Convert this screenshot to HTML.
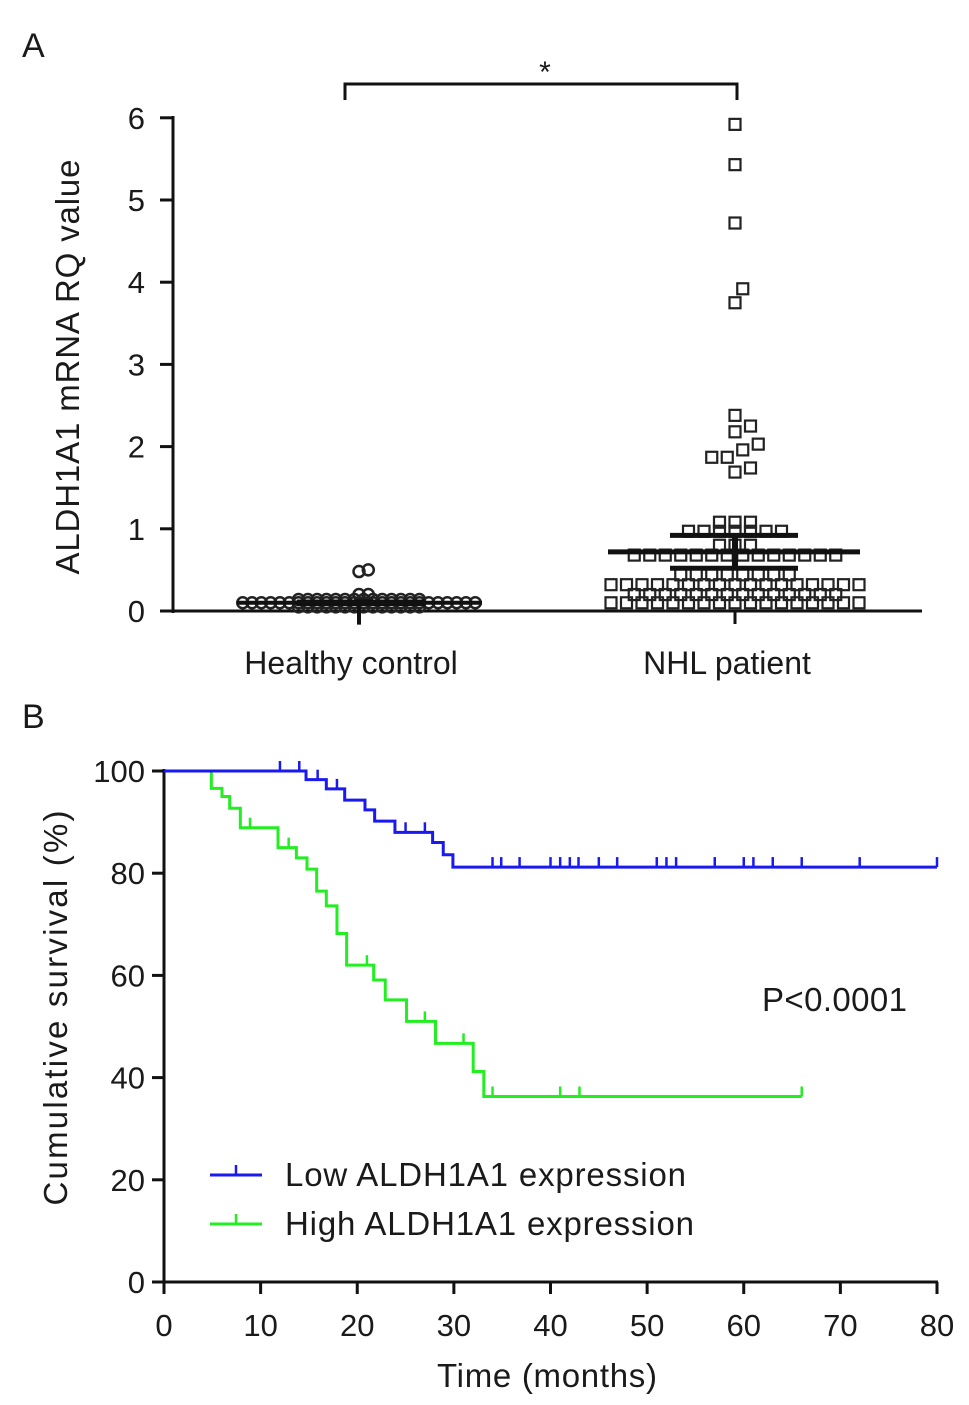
<!DOCTYPE html>
<html><head><meta charset="utf-8"><style>
html,body{margin:0;padding:0;background:#fff}
svg{display:block}
text{font-family:"Liberation Sans",Arial,sans-serif;fill:#1a1a1a}
</style></head><body>
<svg id="fig" width="969" height="1405" viewBox="0 0 969 1405" xmlns="http://www.w3.org/2000/svg">
<g id="panelA"></g>
<g id="panelB"></g>
</svg>
<script>
// ---------- Panel A data ----------
const groupsA = ["Healthy control", "NHL patient"];
const yTicksA = [0, 1, 2, 3, 4, 5, 6];
const healthyValues = [0.5,0.48,0.2,0.2,
 0.1,0.1,0.1,0.1,0.1,0.1,0.1,0.1,0.1,0.1,0.1,0.1,0.1,0.1,0.1,0.1,0.1,0.1,0.1,0.1,0.1,0.1,0.1,0.1,0.1,0.1,
 0.05,0.05,0.05,0.05,0.05,0.05,0.05,0.05,0.05,0.05,0.05,0.05,0.05,0.05,
 0.14,0.14,0.14,0.14,0.14,0.14,0.14,0.14,0.14,0.14,0.14,0.14,0.14,0.14];
const healthyStats = [0.1, 0.06, 0.14, -0.02];
const nhlValues = [5.92,5.43,4.72,3.92,3.75,2.38,2.25,2.18,2.03,1.96,1.87,1.87,1.74,1.69,
 1.08,1.08,1.08,0.97,0.97,0.97,0.97,0.97,0.97,0.97,0.8,0.8,0.8,
 0.68,0.68,0.68,0.68,0.68,0.68,0.68,0.68,0.68,0.68,0.68,0.68,0.68,0.68,
 0.44,0.44,0.44,0.44,0.44,0.44,0.44,0.44,
 0.32,0.32,0.32,0.32,0.32,0.32,0.32,0.32,0.32,0.32,0.32,0.32,0.32,0.32,0.32,0.32,0.32,
 0.2,0.2,0.2,0.2,0.2,0.2,0.2,0.2,0.2,0.2,0.2,0.2,0.2,0.2,
 0.1,0.1,0.1,0.1,0.1,0.1,0.1,0.1,0.1,0.1,0.1,0.1,0.1,0.1,0.1,0.1,0.1];
const nhlStats = [0.72, 0.52, 0.92];

// ---------- Panel B data ----------
const xTicksB = [0,10,20,30,40,50,60,70,80];
const yTicksB = [0,20,40,60,80,100];
const lowTimes = [14.7,16.8,18.7,20.8,21.8,23.9,27.8,28.9,29.9];
const lowSurv  = [98.3,96.5,94.3,92.4,90.2,88,86,83.6,81.2];
const lowEnd = 80;
const lowCensor = [12,14,15.9,17.9,25,27,34,34.9,36.8,40,41,42,42.9,45,46.9,51,52,53,57,60,61,63,66,72,80];
const highTimes = [4.9,6.0,6.8,7.9,11.8,13.7,14.8,15.8,16.8,17.9,18.9,21.7,22.9,25.1,28.1,32.0,33.1];
const highSurv  = [96.6,95,92.7,88.9,85,83,80.8,76.5,73.6,68.2,62,59.1,55.2,51,46.7,41.2,36.3];
const highEnd = 66;
const highCensor = [8.9,12.9,21,27,31,34,41,43,66];

const NS="http://www.w3.org/2000/svg";
function mk(parent, tag, attrs, txt){
  const e=document.createElementNS(NS,tag);
  for(const k in attrs) e.setAttribute(k,attrs[k]);
  if(txt!==undefined) e.textContent=txt;
  parent.appendChild(e); return e;
}

// ===== Panel A =====
const A=document.getElementById('panelA');
const ayS=v=>611-v*82.2;
const gx=[359,735];
let t=mk(A,'text',{x:22,y:57,'font-size':34},'A');


let ax=mk(A,'line',{x1:173,y1:116,x2:173,y2:613,stroke:'#111','stroke-width':3});


ax=mk(A,'line',{x1:172,y1:611,x2:922,y2:611,stroke:'#111','stroke-width':3});


yTicksA.forEach(v=>{
  const y=ayS(v);
  const tk=mk(A,'line',{x1:160,y1:y,x2:173,y2:y,stroke:'#111','stroke-width':3});
  
  
  const lb=mk(A,'text',{x:145,y:y+11,'font-size':31,'text-anchor':'end'},String(v));
  
  
});
t=mk(A,'text',{transform:'translate(79,367) rotate(-90)','font-size':33,'text-anchor':'middle','textLength':415},'ALDH1A1 mRNA RQ value');


groupsA.forEach((g,i)=>{
  const lb=mk(A,'text',{x:gx[i]-8,y:674,'font-size':32,'text-anchor':'middle'},g);
  
  
});
let br=mk(A,'path',{d:'M345,100 L345,84 L737,84 L737,100',fill:'none',stroke:'#111','stroke-width':3});


t=mk(A,'text',{x:545,y:82,'font-size':30,'text-anchor':'middle'},'*');



// row layout for dense low values, beeswarm for sparse high values
function layout(vals, cx, sp, cut){
  const groups={}; const out=[]; const placed=[];
  vals.filter(v=>v<cut).forEach(v=>{(groups[v]=groups[v]||[]).push(v);});
  Object.keys(groups).forEach(k=>{
    const n=groups[k].length;
    for(let i=0;i<n;i++) out.push([cx+(i-(n-1)/2)*sp, ayS(+k)]);
  });
  vals.filter(v=>v>=cut).sort((a,b)=>a-b).forEach(v=>{
    const y=ayS(v); let bx=cx;
    for(let k=0;k<40;k++){
      const off=(k%2?1:-1)*Math.ceil(k/2)*sp*0.5;
      const x=cx+off;
      if(placed.every(p=>Math.hypot(p[0]-x,p[1]-y)>=sp)){bx=x;break;}
    }
    placed.push([bx,y]); out.push([bx,y]);
  });
  return out;
}
layout(healthyValues,gx[0],9.3,0.15).forEach(([x,y])=>{
  const c=mk(A,'circle',{cx:x,cy:y,r:5.5,fill:'none',stroke:'#222','stroke-width':2.5});
  
  
});
layout(nhlValues,gx[1],15.5,1.5).forEach(([x,y])=>{
  const s=mk(A,'rect',{x:x-5.5,y:y-5.5,width:11,height:11,fill:'none',stroke:'#222','stroke-width':2.2});
  
  
});
let m=mk(A,'rect',{x:297,y:ayS(healthyStats[2]),width:128,height:ayS(healthyStats[1])-ayS(healthyStats[2]),fill:'#111'});


m=mk(A,'line',{x1:237,y1:ayS(healthyStats[0]),x2:482,y2:ayS(healthyStats[0]),stroke:'#111','stroke-width':4});


m=mk(A,'line',{x1:gx[0],y1:ayS(healthyStats[0]),x2:gx[0],y2:ayS(healthyStats[3])+12,stroke:'#111','stroke-width':4});


m=mk(A,'line',{x1:608,y1:ayS(nhlStats[0]),x2:860,y2:ayS(nhlStats[0]),stroke:'#111','stroke-width':5});


m=mk(A,'line',{x1:gx[1],y1:ayS(nhlStats[2]),x2:gx[1],y2:ayS(nhlStats[1]),stroke:'#111','stroke-width':6});


[nhlStats[1],nhlStats[2]].forEach(v=>{
  const c=mk(A,'line',{x1:670,y1:ayS(v),x2:798,y2:ayS(v),stroke:'#111','stroke-width':5});
  
  
});
m=mk(A,'line',{x1:gx[1],y1:611,x2:gx[1],y2:624,stroke:'#111','stroke-width':3});



// ===== Panel B =====
const B=document.getElementById('panelB');
const bx=v=>164+v*9.6625;
const by=v=>1282-v*5.11;
t=mk(B,'text',{x:22,y:728,'font-size':34},'B');


ax=mk(B,'line',{x1:164,y1:769,x2:164,y2:1283.5,stroke:'#111','stroke-width':3});


ax=mk(B,'line',{x1:162.5,y1:1282,x2:938,y2:1282,stroke:'#111','stroke-width':3});


yTicksB.forEach(v=>{
  const y=by(v);
  const tk=mk(B,'line',{x1:152,y1:y,x2:164,y2:y,stroke:'#111','stroke-width':3});
  
  
  const lb=mk(B,'text',{x:145,y:y+11,'font-size':31,'text-anchor':'end'},String(v));
  
  
});
xTicksB.forEach(v=>{
  const x=bx(v);
  const tk=mk(B,'line',{x1:x,y1:1282,x2:x,y2:1294,stroke:'#111','stroke-width':3});
  
  
  const lb=mk(B,'text',{x:x,y:1336,'font-size':31,'text-anchor':'middle'},String(v));
  
  
});
t=mk(B,'text',{x:547,y:1387,'font-size':33,'text-anchor':'middle','textLength':220},'Time (months)');


t=mk(B,'text',{transform:'translate(67,1008) rotate(-90)','font-size':33,'text-anchor':'middle','textLength':395},'Cumulative survival (%)');


t=mk(B,'text',{x:762,y:1011,'font-size':33,'textLength':145},'P<0.0001');



function km(times,surv,end){
  let d='M'+bx(0)+','+by(100); let s=100;
  times.forEach((tt,i)=>{d+=' L'+bx(tt)+','+by(s)+' L'+bx(tt)+','+by(surv[i]); s=surv[i];});
  d+=' L'+bx(end)+','+by(s);
  return d;
}
function survAt(times,surv,tt){let s=100;times.forEach((x,i)=>{if(x<=tt)s=surv[i];});return s;}
let p=mk(B,'path',{d:km(highTimes,highSurv,highEnd),fill:'none',stroke:'#22ee22','stroke-width':3});


p=mk(B,'path',{d:km(lowTimes,lowSurv,lowEnd),fill:'none',stroke:'#1a1aee','stroke-width':3});


lowCensor.forEach(c=>{
  const y=by(survAt(lowTimes,lowSurv,c));
  const l=mk(B,'line',{x1:bx(c),y1:y,x2:bx(c),y2:y-10,stroke:'#1a1aee','stroke-width':2.5});
  
  
});
highCensor.forEach(c=>{
  const y=by(survAt(highTimes,highSurv,c));
  const l=mk(B,'line',{x1:bx(c),y1:y,x2:bx(c),y2:y-10,stroke:'#22ee22','stroke-width':2.5});
  
  
});
[['#1a1aee','Low ALDH1A1 expression',1175,'legend-entry-low',401],['#22ee22','High ALDH1A1 expression',1224,'legend-entry-high',409]].forEach(([c,l,y,n,w])=>{
  const g=mk(B,'g',{});
  
  
  mk(g,'line',{x1:210,y1:y,x2:262,y2:y,stroke:c,'stroke-width':3});
  mk(g,'line',{x1:236,y1:y,x2:236,y2:y-10,stroke:c,'stroke-width':2.5});
  mk(g,'text',{x:285,y:y+11,'font-size':33,'textLength':w},l);
});
</script>
</body></html>
